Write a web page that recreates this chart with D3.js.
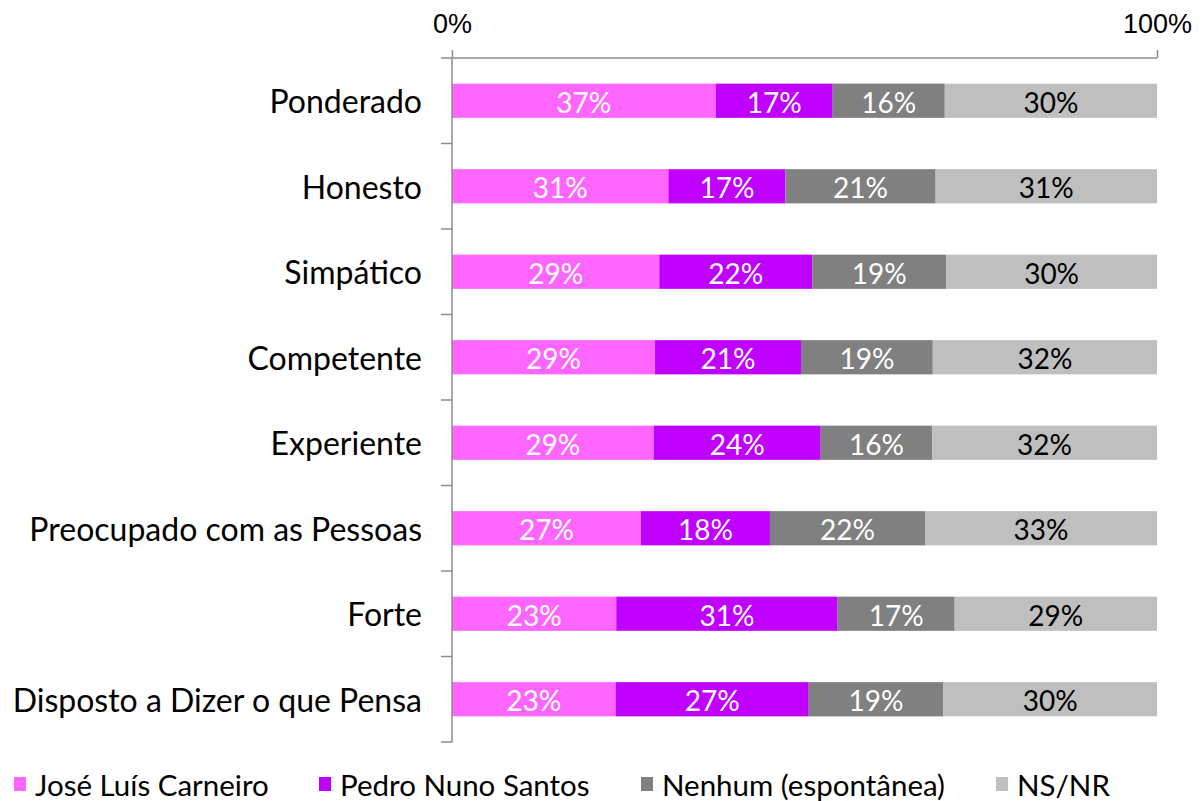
<!DOCTYPE html>
<html>
<head>
<meta charset="utf-8">
<script src="https://cdn.jsdelivr.net/npm/d3@7"></script>
<style>
    body { margin: 0; background: #fff; }
    svg { font-family: Lato, "Open Sans", sans-serif; }
</style>
</head>
<body>
<div id="chart"></div>
<script>
// Categories (top to bottom) and series values in percent
const categories = ["Ponderado", "Honesto", "Simpático", "Competente", "Experiente",
    "Preocupado com as Pessoas", "Forte", "Disposto a Dizer o que Pensa"];
const seriesNames = ["José Luís Carneiro", "Pedro Nuno Santos", "Nenhum (espontânea)", "NS/NR"];
const jose = [37.4, 30.7, 29.4, 28.8, 28.6, 26.8, 23.3, 23.2];
const pedro = [16.6, 16.6, 21.7, 20.7, 23.7, 18.3, 31.4, 27.4];
const nenhum = [15.9, 21.3, 19.0, 18.7, 15.8, 22.0, 16.6, 19.1];
const nsnr = [30.1, 31.4, 29.9, 31.8, 31.9, 32.9, 28.7, 30.3];
const xTickValues = [0, 100];

const colors = ["#FF66FF", "#BF00FF", "#808080", "#BFBFBF"];
const labelColors = ["#fff", "#fff", "#fff", "#000"];

const width = 1201, height = 801;
const margin = {top: 58, left: 452, right: 44, bottom: 59};

const svg = d3.select("#chart").append("svg")
    .attr("width", width)
    .attr("height", height);

// Build rows for stacking
const rows = categories.map((c, i) => ({
    cat: c, s0: jose[i], s1: pedro[i], s2: nenhum[i], s3: nsnr[i]
}));
const stack = d3.stack().keys(["s0", "s1", "s2", "s3"])(rows);

const x = d3.scaleLinear()
    .domain([0, 100])
    .range([margin.left, width - margin.right]);

const y = d3.scaleBand()
    .domain(categories)
    .range([margin.top, height - margin.bottom])
    .padding(0);

const barH = y.bandwidth() * 0.4;
const axisColor = "#8c8c8c";

// Bars
stack.forEach((layer, k) => {
    const g = svg.append("g");
    g.selectAll("rect")
        .data(layer)
        .enter().append("rect")
        .attr("x", d => x(d[0]))
        .attr("width", d => x(d[1]) - x(d[0]))
        .attr("y", d => y(d.data.cat) + (y.bandwidth() - barH) / 2)
        .attr("height", barH)
        .style("fill", colors[k]);

    g.selectAll("text")
        .data(layer)
        .enter().append("text")
        .attr("x", d => (x(d[0]) + x(d[1])) / 2)
        .attr("y", d => y(d.data.cat) + y.bandwidth() / 2 + 1)
        .attr("text-anchor", "middle")
        .attr("dominant-baseline", "central")
        .style("font-size", "28px")
        .style("fill", labelColors[k])
        .text(d => Math.round(d[1] - d[0]) + "%");
});

// Top axis
const xAxis = svg.append("g")
    .attr("transform", "translate(0," + margin.top + ")")
    .call(d3.axisTop(x).tickValues(xTickValues).tickSize(8).tickSizeOuter(0)
        .tickFormat(d => d + "%"));
xAxis.select(".domain").remove();
xAxis.selectAll("line").style("stroke", axisColor).style("stroke-width", 1.5);
xAxis.selectAll("text")
    .style("font-size", "27px")
    .style("fill", "#000")
    .attr("y", -25);
svg.append("line")
    .attr("x1", margin.left - 11).attr("x2", x(100))
    .attr("y1", margin.top).attr("y2", margin.top)
    .style("stroke", axisColor).style("stroke-width", 1.5);

// Left axis: ticks at category boundaries
svg.append("line")
    .attr("x1", margin.left).attr("x2", margin.left)
    .attr("y1", margin.top).attr("y2", height - margin.bottom)
    .style("stroke", axisColor).style("stroke-width", 1.5);
svg.append("g").selectAll("line")
    .data(categories)
    .enter().append("line")
    .attr("x1", margin.left - 11).attr("x2", margin.left)
    .attr("y1", d => y(d) + y.bandwidth())
    .attr("y2", d => y(d) + y.bandwidth())
    .style("stroke", axisColor).style("stroke-width", 1.5);

svg.append("g").selectAll("text")
    .data(categories)
    .enter().append("text")
    .attr("x", margin.left - 30)
    .attr("y", d => y(d) + y.bandwidth() / 2)
    .attr("text-anchor", "end")
    .attr("dominant-baseline", "central")
    .style("font-size", "32px")
    .style("fill", "#000")
    .text(d => d);

// Legend
const legendX = [14, 319, 641, 996];
const legend = svg.append("g");
seriesNames.forEach((name, i) => {
    legend.append("rect")
        .attr("x", legendX[i]).attr("y", 777)
        .attr("width", 12).attr("height", 14)
        .style("fill", colors[i]);
    legend.append("text")
        .attr("x", legendX[i] + 21).attr("y", 784)
        .attr("dominant-baseline", "central")
        .style("font-size", "29.5px")
        .style("fill", "#000")
        .text(name);
});
</script>
</body>
</html>
